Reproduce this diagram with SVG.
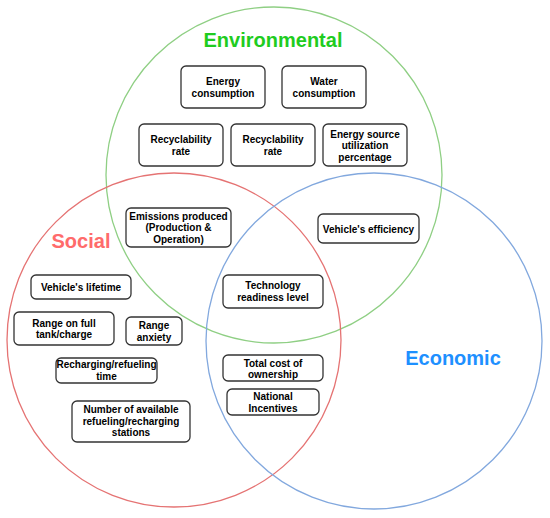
<svg xmlns="http://www.w3.org/2000/svg" width="550" height="518" viewBox="0 0 550 518">
<style>
.c{fill:none;stroke-width:1.3}
.b rect{fill:#fff;stroke:#333;stroke-width:1.3}
.b text{font-family:"Liberation Sans",Arial,sans-serif;font-weight:bold;font-size:10px;fill:#000;text-anchor:middle}
.t{font-family:"Liberation Sans",Arial,sans-serif;font-weight:bold;font-size:20px;text-anchor:middle}
</style>
<rect width="550" height="518" fill="#fff"/>
<g id="circles">
<circle class="c" cx="274" cy="175" r="168" stroke="#8fcf84"/>
<circle class="c" cx="174" cy="340" r="167" stroke="#e57373"/>
<circle class="c" cx="374" cy="341" r="168" stroke="#82a8de"/>
</g>
<g id="titles">
<text class="t" x="273" y="47" fill="#1fcc1f">Environmental</text>
<text class="t" x="81" y="248" fill="#ff6b6b">Social</text>
<text class="t" x="453" y="365" fill="#1e90ff">Economic</text>
</g>
<g id="energy-consumption" class="b"><rect x="181" y="66" width="84" height="42" rx="5"/><text x="223" y="85">Energy</text><text x="223" y="96.5">consumption</text></g>
<g id="water-consumption" class="b"><rect x="282" y="66" width="84" height="42" rx="5"/><text x="324" y="85">Water</text><text x="324" y="96.5">consumption</text></g>
<g id="recyclability-1" class="b"><rect x="139" y="124" width="84" height="42" rx="5"/><text x="181" y="143">Recyclability</text><text x="181" y="154.5">rate</text></g>
<g id="recyclability-2" class="b"><rect x="231" y="124" width="84" height="42" rx="5"/><text x="273" y="143">Recyclability</text><text x="273" y="154.5">rate</text></g>
<g id="energy-source" class="b"><rect x="323" y="124" width="84" height="42" rx="5"/><text x="365" y="137.5">Energy source</text><text x="365" y="149">utilization</text><text x="365" y="160.5">percentage</text></g>
<g id="emissions" class="b"><rect x="126" y="208" width="105" height="39" rx="5"/><text x="178.5" y="219.5">Emissions produced</text><text x="178.5" y="231">(Production &amp;</text><text x="178.5" y="242.5">Operation)</text></g>
<g id="vehicle-efficiency" class="b"><rect x="318" y="214" width="101" height="29" rx="5"/><text x="368.5" y="232.5">Vehicle's efficiency</text></g>
<g id="vehicle-lifetime" class="b"><rect x="31" y="275" width="100" height="24" rx="5"/><text x="81" y="291">Vehicle's lifetime</text></g>
<g id="technology" class="b"><rect x="223" y="275" width="100" height="33" rx="5"/><text x="273" y="289">Technology</text><text x="273" y="300.5">readiness level</text></g>
<g id="range-full" class="b"><rect x="14" y="312" width="100" height="33" rx="5"/><text x="64" y="326.5">Range on full</text><text x="64" y="338">tank/charge</text></g>
<g id="range-anxiety" class="b"><rect x="126" y="317" width="56" height="28" rx="5"/><text x="154" y="329">Range</text><text x="154" y="340.5">anxiety</text></g>
<g id="recharging-time" class="b"><rect x="56" y="358" width="101" height="25" rx="5"/><text x="106.5" y="368">Recharging/refueling</text><text x="106.5" y="379.5">time</text></g>
<g id="total-cost" class="b"><rect x="223" y="355" width="100" height="26" rx="5"/><text x="273" y="366.5">Total cost of</text><text x="273" y="378">ownership</text></g>
<g id="national-incentives" class="b"><rect x="227" y="389" width="92" height="26" rx="5"/><text x="273" y="400">National</text><text x="273" y="411.5">Incentives</text></g>
<g id="stations" class="b"><rect x="72" y="401" width="118" height="41" rx="5"/><text x="131" y="413">Number of available</text><text x="131" y="424.5">refueling/recharging</text><text x="131" y="436">stations</text></g>
<g id="connectors"></g>
</svg>
